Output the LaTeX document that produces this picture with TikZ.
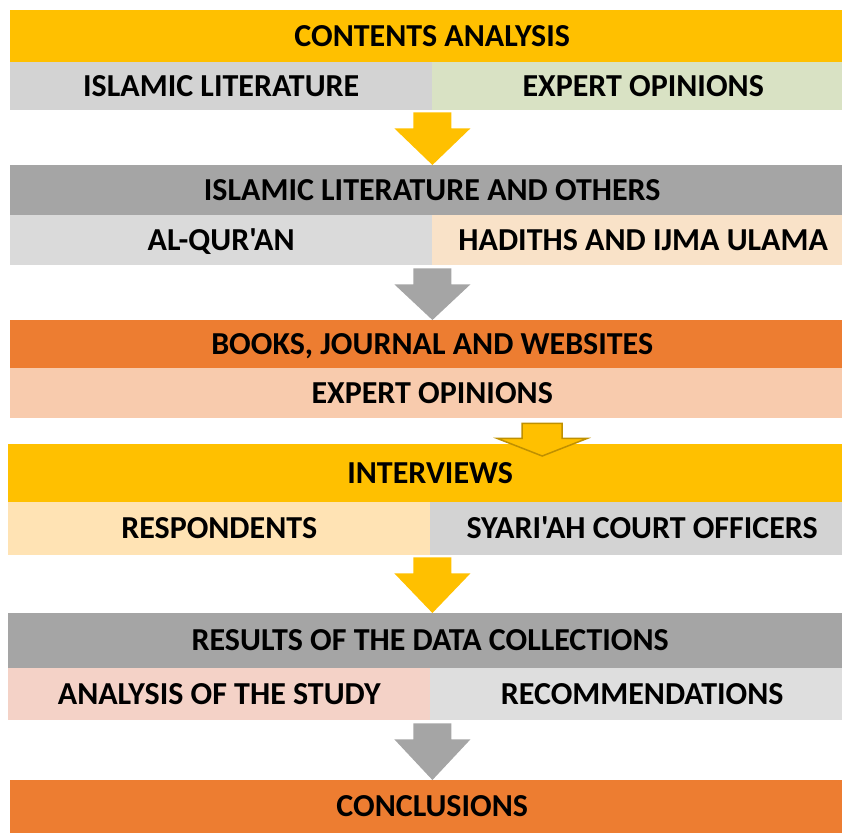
\documentclass[tikz,border=0pt]{standalone}
\usepackage{fontspec}
\setmainfont{Carlito}[Ligatures=TeXOff]
\usetikzlibrary{calc}

\definecolor{cyellow}{HTML}{FFC000}
\definecolor{cgray}{HTML}{A5A5A5}
\definecolor{corange}{HTML}{ED7D31}
\definecolor{cedge}{HTML}{BF9000}
\definecolor{lgray}{HTML}{D3D3D3}
\definecolor{lgraytwo}{HTML}{DADADA}
\definecolor{lgraythree}{HTML}{DEDEDE}
\definecolor{lgreen}{HTML}{D9E2C4}
\definecolor{lpeach}{HTML}{F9E2C8}
\definecolor{lsalmon}{HTML}{F8CBAD}
\definecolor{lcream}{HTML}{FFE3B4}
\definecolor{lrose}{HTML}{F4D2C7}

% #1 style, #2 top of shaft, #3 tip, #4 shaft half width, #5 head half width, #6 shaft length
\newcommand{\flowarrow}[6]{%
  \path[#1] let \p1=(#2), \p2=(#3) in
    (\x1-#4pt,\y1) -- (\x1+#4pt,\y1) -- (\x1+#4pt,\y1-#6pt) -- (\x1+#5pt,\y1-#6pt)
    -- (\x1,\y2) -- (\x1-#5pt,\y1-#6pt) -- (\x1-#4pt,\y1-#6pt) -- cycle;}

\begin{document}
\begin{tikzpicture}[x=1pt,y=-1pt,
  band/.style={rectangle, inner sep=0pt, anchor=north west, text=black,
    text height=20.5pt, text depth=0pt, font=\fontsize{32}{38}\selectfont\bfseries},
  head/.style={band, minimum width=844, minimum height=#1},
  half/.style={band, minimum height=#1}]
\useasboundingbox (0,0) rectangle (842,833);

\node[head=52, fill=cyellow] (h1) at (10,10) {CONTENTS ANALYSIS};
\node[half=48, fill=lgray, minimum width=422] (s1l) at (10,62) {ISLAMIC LITERATURE};
\node[half=48, fill=lgreen, minimum width=422] (s1r) at (432,62) {EXPERT OPINIONS};

\node[head=50, fill=cgray] (h2) at (10,165) {ISLAMIC LITERATURE AND OTHERS};
\node[half=50, fill=lgraytwo, minimum width=422] (s2l) at (10,215) {AL-QUR'AN};
\node[half=50, fill=lpeach, minimum width=422] (s2r) at (432,215) {HADITHS AND IJMA ULAMA};

\node[head=48, fill=corange] (h3) at (10,320) {BOOKS, JOURNAL AND WEBSITES};
\node[head=50, fill=lsalmon] (s3) at (10,368) {EXPERT OPINIONS};

\node[head=58, fill=cyellow] (h4) at (8,444) {INTERVIEWS};
\node[half=53, fill=lcream, minimum width=422] (s4l) at (8,502) {RESPONDENTS};
\node[half=53, fill=lgray, minimum width=424] (s4r) at (430,502) {SYARI'AH COURT OFFICERS};

\node[head=55, fill=cgray] (h5) at (8,613) {RESULTS OF THE DATA COLLECTIONS};
\node[half=52, fill=lrose, minimum width=422] (s5l) at (8,668) {ANALYSIS OF THE STUDY};
\node[half=52, fill=lgraythree, minimum width=424] (s5r) at (430,668) {RECOMMENDATIONS};

\node[head=53, fill=corange] (h6) at (10,780) {CONCLUSIONS};

\flowarrow{fill=cyellow}{$(s1l.south east)+(0,2)$}{$(s1l.south east |- h2.north)$}{19}{38}{16}
\flowarrow{fill=cgray}{$(s2l.south east)+(0,3)$}{$(s2l.south east |- h3.north)$}{19}{38}{16}
\flowarrow{fill=cyellow, draw=cedge, line width=1.5pt}{$(s3.south)+(110,5)$}{$(h4.north)+(112,12)$}{20}{45}{15}
\flowarrow{fill=cyellow}{$(s4l.south east)+(2,2)$}{$(s4l.south east |- h5.north)$}{19}{38}{16}
\flowarrow{fill=cgray}{$(s5l.south east)+(2,3)$}{$(s5l.south east |- h6.north)$}{19}{38}{16}

\end{tikzpicture}
\end{document}
